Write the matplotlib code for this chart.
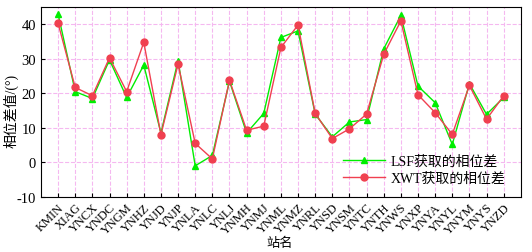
import numpy as np
import matplotlib
matplotlib.use('Agg')
from matplotlib import pyplot as plt

plt.rcParams['font.family'] = ['Liberation Serif', 'Noto Sans CJK SC', 'DejaVu Sans']
plt.rcParams['axes.unicode_minus'] = False

stations = ['KMIN', 'XIAG', 'YNCX', 'YNDC', 'YNGM', 'YNHZ', 'YNJD', 'YNJP', 'YNLA',
            'YNLC', 'YNLJ', 'YNMH', 'YNMJ', 'YNML', 'YNMZ', 'YNRL', 'YNSD', 'YNSM',
            'YNTC', 'YNTH', 'YNWS', 'YNXP', 'YNYA', 'YNYL', 'YNYM', 'YNYS', 'YNZD']
lsf = [43.0, 20.5, 18.5, 29.7, 18.8, 28.2, 8.5, 29.5, -1.0, 2.0, 23.5, 8.5, 14.2,
       36.2, 38.1, 14.0, 7.4, 11.7, 12.4, 32.9, 42.6, 22.1, 17.3, 5.2, 22.8, 13.9, 18.8]
xwt = [40.3, 21.7, 19.3, 30.3, 20.5, 34.8, 8.0, 28.5, 5.5, 1.0, 23.8, 9.3, 10.5,
       33.3, 39.8, 14.2, 6.9, 9.7, 14.0, 31.3, 41.0, 19.6, 14.4, 8.1, 22.3, 12.5, 19.3]

x = np.arange(1, len(stations) + 1)

fig = plt.figure(figsize=(5.32, 2.53), dpi=100, facecolor='w')
ax = fig.add_axes([0.077, 0.218, 0.902, 0.75])

ax.plot(x, lsf, color='#00ee00', marker='^', markersize=5, linewidth=1, label='LSF获取的相位差', zorder=3)
ax.plot(x, xwt, color='#f04050', marker='o', markersize=5, linewidth=1, label='XWT获取的相位差', zorder=4)

ax.set_xlim(0, 28)
ax.set_ylim(-10, 45)
ax.set_yticks([-10, 0, 10, 20, 30, 40])
ax.set_xticks(x)
ax.set_xticklabels(stations, rotation=45, ha='right', rotation_mode='anchor', fontsize=9)
ax.tick_params(direction='in', labelsize=10.5, length=3)
ax.tick_params(axis='x', labelsize=9, pad=3)
ax.grid(True, color='#f5b8f0', linestyle='--', linewidth=0.8)
ax.set_axisbelow(True)

fig.text(0.526, 0.038, '站名', fontsize=9.5, ha='center', va='center')
ax.set_ylabel('相位差值/(°)', fontsize=10)
ax.yaxis.set_label_coords(-0.046, 0.46)

leg = ax.legend(loc='lower right', frameon=False, fontsize=10, handlelength=3,
                bbox_to_anchor=(0.985, 0.02), borderaxespad=0.2, labelspacing=0.3,
                handletextpad=0.4)

fig.savefig('out.png', dpi=100)
plt.close()
